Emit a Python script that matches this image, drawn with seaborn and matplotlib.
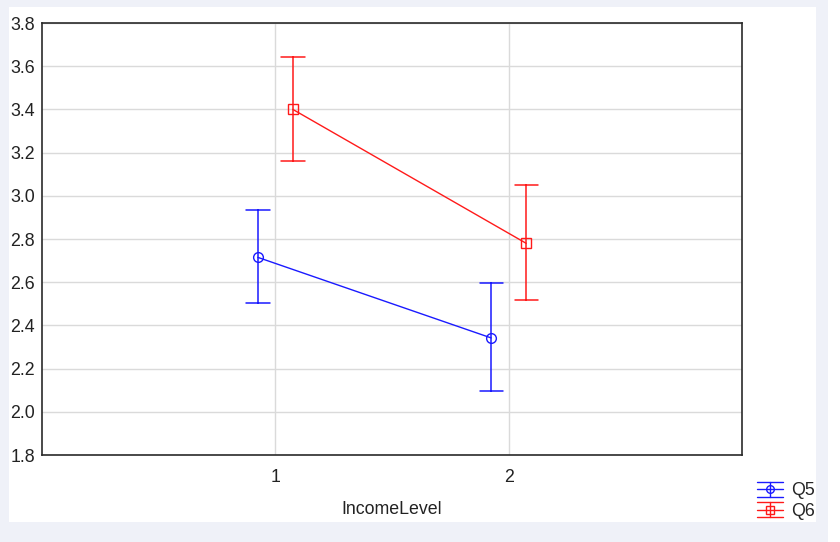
import seaborn as sns
import pandas as pd
import matplotlib.pyplot as plt
from matplotlib.lines import Line2D
from matplotlib.patches import Rectangle
from matplotlib.legend_handler import HandlerBase

# values: mean and interval ends per income level
income = ['1', '2']
q5_mean = [2.715, 2.342]
q5_low = [2.503, 2.098]
q5_high = [2.936, 2.594]
q6_mean = [3.400, 2.780]
q6_low = [3.162, 2.517]
q6_high = [3.642, 3.048]

series = ['Q5', 'Q6']
colors = {'Q5': '#1a1aff', 'Q6': '#ff1a1a'}
markers = {'Q5': 'o', 'Q6': 's'}

# three rows per point (low, mean, high) -> median + full range interval
rows = []
for name, lo, mid, hi in [('Q5', q5_low, q5_mean, q5_high),
                          ('Q6', q6_low, q6_mean, q6_high)]:
    for i, lev in enumerate(income):
        for v in (lo[i], mid[i], hi[i]):
            rows.append({'IncomeLevel': lev, 'Q': name, 'value': v})
df = pd.DataFrame(rows)


class ErrbarHandler(HandlerBase):
    def create_artists(self, legend, orig_handle, xdescent, ydescent,
                       width, height, fontsize, trans):
        c = orig_handle.get_color()
        m = orig_handle.get_marker()
        x0, x1 = -xdescent, -xdescent + width
        xm = (x0 + x1) / 2
        ym = -ydescent + height / 2
        d = 5.5
        arts = []
        for yy in (ym - d, ym, ym + d):
            arts.append(Line2D([x0, x1], [yy, yy], color=c, lw=1))
        arts.append(Line2D([xm, xm], [ym - d, ym + d], color=c, lw=1))
        arts.append(Line2D([xm], [ym], marker=m, mfc='none', mec=c,
                           ms=5.5, mew=1, lw=0))
        for a in arts:
            a.set_transform(trans)
        return arts


sns.set_style('white')
plt.rcParams['font.family'] = ['Liberation Sans', 'DejaVu Sans']
fs = 12.8

fig = plt.figure(figsize=(8.4, 5.42), dpi=100, facecolor='#eff1f8')
fig.patches.append(Rectangle((9 / 840, 20 / 542), 807 / 840, 515 / 542,
                             transform=fig.transFigure, facecolor='white',
                             edgecolor='none', zorder=-10))
fig.patches.append(Rectangle((828 / 840, 0), 12 / 840, 1,
                             transform=fig.transFigure, facecolor='white',
                             edgecolor='none', zorder=-10))
ax = fig.add_axes([42 / 840, 87 / 542, 700 / 840, 432 / 542])

sns.pointplot(data=df, x='IncomeLevel', y='value', hue='Q', order=income,
              hue_order=series, palette=colors, markers=['o', 's'],
              estimator='median', errorbar=('pi', 100), dodge=0.15,
              capsize=0.1, err_kws={'linewidth': 1.1}, linewidth=1,
              markersize=7, markerfacecolor='none', markeredgewidth=1,
              legend=False, ax=ax)

ax.set_xlim(-1, 2)
ax.set_ylim(1.8, 3.8)
ax.set_yticks([1.8, 2.0, 2.2, 2.4, 2.6, 2.8, 3.0, 3.2, 3.4, 3.6, 3.8])
ax.set_yticklabels(['%.1f' % t for t in ax.get_yticks()])
ax.grid(True, color='#dadada', linewidth=1)
ax.set_axisbelow(True)
for s in ax.spines.values():
    s.set_color('#2a2a2a')
    s.set_linewidth(1.2)
ax.tick_params(direction='in', length=4, width=1, colors='#2a2a2a',
               labelsize=fs, labelcolor='#222222')
ax.tick_params(axis='y', pad=5)
ax.tick_params(axis='x', pad=10)
ax.set_xlabel('IncomeLevel', fontsize=fs, color='#222222', labelpad=11)
ax.set_ylabel('')

handles = [Line2D([], [], color=colors[s], marker=markers[s]) for s in series]
fig.legend(handles, series, handler_map={Line2D: ErrbarHandler()},
           loc='lower right', bbox_to_anchor=(815 / 840, 22 / 542),
           frameon=False, fontsize=fs, borderpad=0, labelspacing=0.2,
           handlelength=1.45, handletextpad=0.45, borderaxespad=0)

fig.savefig('out.png', dpi=100, facecolor=fig.get_facecolor())
